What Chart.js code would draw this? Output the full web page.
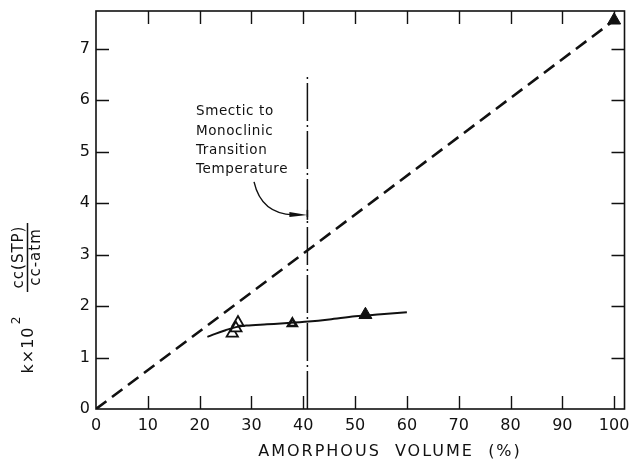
<!DOCTYPE html>
<html>
<head>
<meta charset="utf-8">
<script src="https://cdn.jsdelivr.net/npm/chart.js@4/dist/chart.umd.min.js"></script>
<style>
  html, body { margin: 0; padding: 0; background: #fff; }
  canvas { display: block; }
</style>
</head>
<body>
<canvas id="c" width="633" height="464"></canvas>
<script>
// Axis ticks
const xTicks = [0, 10, 20, 30, 40, 50, 60, 70, 80, 90, 100];
const yTicks = [0, 1, 2, 3, 4, 5, 6, 7];

// Dashed reference line through the origin
const lineX = [0, 100];
const lineY = [0, 7.55];

// Smooth trend curve through the low-temperature data
const curveX = [21.5, 23, 25, 27, 29, 33, 37, 41, 45, 50, 55, 60];
const curveY = [1.40, 1.46, 1.53, 1.59, 1.62, 1.645, 1.67, 1.70, 1.74, 1.80, 1.84, 1.88];

// Measured points
const openX = [27.4, 26.3, 27.0];
const openY = [1.68, 1.47, 1.57];
const smallX = [37.9];
const smallY = [1.66];
const filledX = [52, 100];
const filledY = [1.83, 7.55];

// Transition temperature marker
const transitionX = 40.8;
const transitionTop = 6.5;
const noteLines = ['Smectic to', 'Monoclinic', 'Transition', 'Temperature'];
const noteAt = { x: 19.3, y: 5.77 };
const arrowFrom = { x: 30.5, y: 4.41 };
const arrowBend = { x: 31.9, y: 3.79 };
const arrowTo = { x: 40.8, y: 3.77 };

const pts = (xs, ys) => xs.map((x, i) => ({ x, y: ys[i] }));
const FONT = "'DejaVu Sans', sans-serif";
const INK = '#111';

const decor = {
  id: 'decor',
  afterDatasetsDraw(chart) {
    const { ctx, chartArea: a, scales: { x, y } } = chart;
    ctx.save();
    ctx.strokeStyle = INK;
    ctx.fillStyle = INK;
    // frame
    ctx.lineWidth = 1.6;
    ctx.strokeRect(a.left, a.top, a.right - a.left, a.bottom - a.top);
    // inward ticks on all four sides
    ctx.lineWidth = 1.4;
    const tl = 13;
    ctx.beginPath();
    xTicks.forEach(v => {
      const px = Math.round(x.getPixelForValue(v)) + 0.5;
      if (v > 0) {
        ctx.moveTo(px, a.bottom); ctx.lineTo(px, a.bottom - tl);
        ctx.moveTo(px, a.top); ctx.lineTo(px, a.top + tl);
      }
    });
    yTicks.forEach(v => {
      const py = Math.round(y.getPixelForValue(v)) + 0.5;
      if (v > 0) {
        ctx.moveTo(a.left, py); ctx.lineTo(a.left + tl, py);
        ctx.moveTo(a.right, py); ctx.lineTo(a.right - tl, py);
      }
    });
    ctx.stroke();

    // annotation text
    ctx.font = '13.5px ' + FONT;
    ctx.letterSpacing = '0.6px';
    ctx.textAlign = 'left';
    ctx.textBaseline = 'middle';
    const tx = x.getPixelForValue(noteAt.x);
    const ty = y.getPixelForValue(noteAt.y);
    noteLines.forEach((s, i) => ctx.fillText(s, tx, ty + i * 19.3));

    // curved arrow to the transition line
    const p0 = { x: x.getPixelForValue(arrowFrom.x), y: y.getPixelForValue(arrowFrom.y) };
    const pc = { x: x.getPixelForValue(arrowBend.x), y: y.getPixelForValue(arrowBend.y) };
    const p1 = { x: x.getPixelForValue(arrowTo.x), y: y.getPixelForValue(arrowTo.y) };
    ctx.lineWidth = 1.4;
    ctx.beginPath();
    ctx.moveTo(p0.x, p0.y);
    ctx.quadraticCurveTo(pc.x, pc.y, p1.x - 14, p1.y);
    ctx.stroke();
    ctx.beginPath();
    ctx.moveTo(p1.x, p1.y);
    ctx.lineTo(p1.x - 18, p1.y - 2.8);
    ctx.lineTo(p1.x - 18, p1.y + 2.2);
    ctx.closePath();
    ctx.fill();
    ctx.lineWidth = 1.6;
    ctx.beginPath();
    ctx.moveTo(p1.x, p1.y - 5); ctx.lineTo(p1.x, p1.y + 5);
    ctx.stroke();

    // x axis title
    ctx.font = '16px ' + FONT;
    ctx.letterSpacing = '2px';
    ctx.textAlign = 'center';
    ctx.fillText('AMORPHOUS  VOLUME  (%)', 390, 452);

    // y axis title (rotated)
    ctx.letterSpacing = '1px';
    const rot = (cx, cy, fn) => { ctx.save(); ctx.translate(cx, cy); ctx.rotate(-Math.PI / 2); fn(); ctx.restore(); };
    ctx.font = '16px ' + FONT;
    rot(29, 350, () => ctx.fillText('k×10', 0, 0));
    ctx.font = '12px ' + FONT;
    rot(17, 320, () => ctx.fillText('2', 0, 0));
    ctx.font = '15px ' + FONT;
    rot(19, 257, () => ctx.fillText('cc(STP)', 0, 0));
    rot(36, 257, () => ctx.fillText('cc-atm', 0, 0));
    ctx.lineWidth = 1.5;
    ctx.beginPath();
    ctx.moveTo(27.5, 223); ctx.lineTo(27.5, 292);
    ctx.stroke();
    ctx.restore();
  }
};

new Chart(document.getElementById('c'), {
  type: 'scatter',
  data: {
    datasets: [
      {
        data: pts(lineX, lineY), showLine: true, borderColor: INK, borderWidth: 2.6,
        borderDash: [13, 7], pointRadius: 0
      },
      {
        data: pts(curveX, curveY), showLine: true, borderColor: INK, borderWidth: 2,
        tension: 0.4, cubicInterpolationMode: 'monotone', pointRadius: 0
      },
      {
        data: [{ x: transitionX, y: 0 }, { x: transitionX, y: transitionTop }], showLine: true,
        borderColor: INK, borderWidth: 1.5, borderDash: [38, 4, 2, 4], pointRadius: 0
      },
      {
        data: pts(openX, openY), pointStyle: 'triangle', pointRadius: 6.5,
        backgroundColor: '#fff', borderColor: INK, borderWidth: 1.8
      },
      {
        data: pts(smallX, smallY), pointStyle: 'triangle', pointRadius: 5,
        backgroundColor: '#fff', borderColor: INK, borderWidth: 2.6
      },
      {
        data: pts(filledX, filledY), pointStyle: 'triangle', pointRadius: 7.5,
        backgroundColor: INK, borderColor: INK, borderWidth: 1
      }
    ]
  },
  options: {
    responsive: false,
    animation: false,
    events: [],
    layout: { padding: { top: 11, right: 7, left: 0, bottom: 0 } },
    plugins: { legend: { display: false }, tooltip: { enabled: false } },
    scales: {
      x: {
        type: 'linear', min: 0, max: 102,
        afterBuildTicks: s => { s.ticks = xTicks.map(v => ({ value: v })); },
        afterFit: s => { s.height = 55; s.paddingLeft = 0; s.paddingRight = 0; },
        grid: { display: false, drawTicks: false },
        border: { display: false },
        ticks: { font: { family: FONT, size: 16 }, color: INK, padding: 7, maxRotation: 0 }
      },
      y: {
        type: 'linear', min: 0, max: 7.73,
        afterBuildTicks: s => { s.ticks = yTicks.map(v => ({ value: v })); },
        afterFit: s => { s.width = 96; s.paddingTop = 0; s.paddingBottom = 0; },
        grid: { display: false, drawTicks: false },
        border: { display: false },
        ticks: { font: { family: FONT, size: 16 }, color: INK, padding: 6 }
      }
    }
  },
  plugins: [decor]
});
</script>
</body>
</html>
